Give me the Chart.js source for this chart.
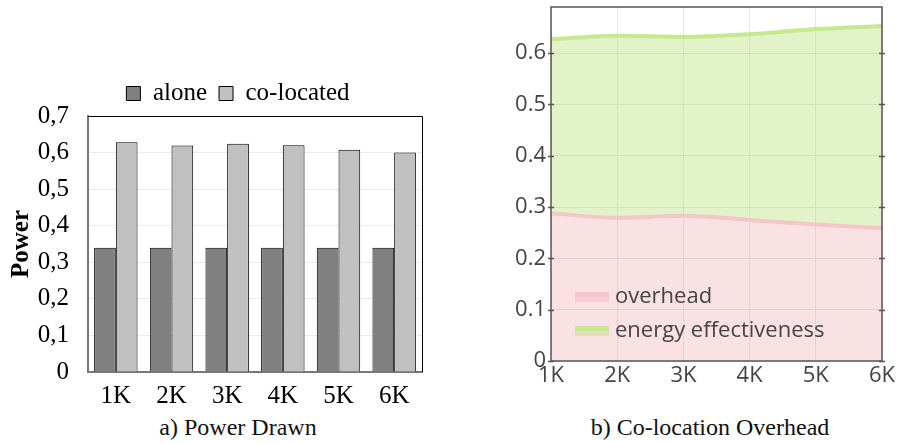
<!DOCTYPE html>
<html>
<head>
<meta charset="utf-8">
<script src="https://cdn.jsdelivr.net/npm/chart.js@4/dist/chart.umd.min.js"></script>
<style>
  body { margin: 0; background: #fff; width: 898px; height: 444px; position: relative; overflow: hidden; }
  #left { position: absolute; left: 0; top: 0; }
  #right { position: absolute; left: 450px; top: 0; }
  .cap { position: absolute; top: 414px; font-family: "Liberation Serif", serif; font-size: 24px; color: #111; white-space: nowrap; transform: translateX(-50%); }
</style>
</head>
<body>
<canvas id="left" width="450" height="410"></canvas>
<canvas id="right" width="448" height="400"></canvas>
<div class="cap" style="left:238px">a) Power Drawn</div>
<div class="cap" style="left:710px">b) Co-location Overhead</div>
<script>
// left chart: power drawn
const sizes = ['1K', '2K', '3K', '4K', '5K', '6K']
const alone = [0.34, 0.34, 0.34, 0.34, 0.34, 0.34]
const colocated = [0.628, 0.619, 0.624, 0.62, 0.608, 0.6]
const powerTicks = ['0', '0,1', '0,2', '0,3', '0,4', '0,5', '0,6', '0,7']

// right chart: co-location overhead
const overhead = [0.288, 0.279, 0.283, 0.275, 0.266, 0.259]
const effectiveness = [0.627, 0.634, 0.632, 0.637, 0.647, 0.653]

const serif = '"Liberation Serif", "Times New Roman", serif'
const sans = '"Open Sans", sans-serif'

// top/right frame lines for the bar chart, legend nudged over the plot centre
const barFrame = {
  id: 'barFrame',
  afterLayout(chart) {
    chart.legend.left += 27
    chart.legend.right += 27
  },
  afterDraw(chart) {
    const a = chart.chartArea, ctx = chart.ctx
    ctx.save()
    ctx.strokeStyle = '#000'
    ctx.lineWidth = 1
    ctx.beginPath()
    ctx.moveTo(a.left, a.top + 0.5)
    ctx.lineTo(a.right + 0.5, a.top + 0.5)
    ctx.lineTo(a.right + 0.5, a.bottom)
    ctx.stroke()
    ctx.restore()
  }
}

new Chart(document.getElementById('left'), {
  type: 'bar',
  data: {
    labels: sizes,
    datasets: [{
      label: 'alone',
      data: alone,
      backgroundColor: '#808080',
      borderColor: '#000',
      borderWidth: 1
    }, {
      label: 'co-located',
      data: colocated,
      backgroundColor: '#c0c0c0',
      borderColor: '#000',
      borderWidth: 1
    }]
  },
  options: {
    responsive: false,
    animation: false,
    categoryPercentage: 0.78,
    barPercentage: 1,
    layout: { padding: { top: 69, right: 28, left: 0, bottom: 0 } },
    plugins: {
      tooltip: { enabled: false },
      legend: {
        position: 'top',
        labels: {
          boxWidth: 14,
          boxHeight: 14,
          color: '#000',
          padding: 12,
          font: { family: serif, size: 25 }
        }
      }
    },
    scales: {
      x: {
        grid: { display: false, drawTicks: false },
        border: { color: '#777', width: 2 },
        ticks: { color: '#000', padding: 9, font: { family: serif, size: 25 } },
        afterFit(s) { s.height = 38 }
      },
      y: {
        min: 0,
        max: 0.7,
        grid: { color: '#ececec', drawTicks: false },
        border: { color: '#777', width: 2 },
        ticks: {
          stepSize: 0.1,
          padding: 19,
          color: '#000',
          font: { family: serif, size: 25 },
          callback: (v, i) => powerTicks[i]
        },
        title: {
          display: true,
          text: 'Power',
          color: '#000',
          padding: { top: 7, bottom: 0 },
          font: { family: serif, size: 25, weight: 'bold' }
        },
        afterFit(s) { s.width = 88 }
      }
    }
  },
  plugins: [barFrame]
})

// frame with tick marks on both sides plus a legend inside the plot
const areaFrame = {
  id: 'areaFrame',
  afterDraw(chart) {
    const a = chart.chartArea, ctx = chart.ctx
    const y = chart.scales.y
    ctx.save()
    ctx.strokeStyle = '#555'
    ctx.lineWidth = 1.5
    ctx.strokeRect(a.left, a.top, a.right - a.left, a.bottom - a.top)
    y.ticks.forEach(t => {
      const py = Math.round(y.getPixelForValue(t.value)) + 0.5
      ctx.beginPath()
      ctx.moveTo(a.left - 3, py); ctx.lineTo(a.left + 3, py)
      ctx.moveTo(a.right - 3, py); ctx.lineTo(a.right + 3, py)
      ctx.stroke()
    })
    // legend
    const fills = ['rgba(240,160,165,0.3)', 'rgba(175,220,100,0.35)']
    chart.data.datasets.forEach((ds, i) => {
      const ly = a.top + 290 + i * 34
      const lx = a.left + 24
      ctx.fillStyle = fills[i]
      ctx.fillRect(lx, ly - 4, 34, 9)
      ctx.fillStyle = ds.borderColor
      ctx.fillRect(lx, ly - 5, 34, 5)
      ctx.fillStyle = '#444'
      ctx.font = '22px ' + sans
      ctx.textBaseline = 'middle'
      ctx.fillText(ds.label, lx + 40, ly)
    })
    ctx.restore()
  }
}

new Chart(document.getElementById('right'), {
  type: 'line',
  data: {
    labels: sizes,
    datasets: [{
      label: 'overhead',
      data: overhead,
      borderColor: 'rgb(245,198,201)',
      backgroundColor: 'rgba(240,160,165,0.3)',
      borderWidth: 4,
      pointRadius: 0,
      cubicInterpolationMode: 'monotone',
      fill: 'origin'
    }, {
      label: 'energy effectiveness',
      data: effectiveness,
      borderColor: 'rgb(198,233,142)',
      backgroundColor: 'rgba(175,220,100,0.35)',
      borderWidth: 4,
      pointRadius: 0,
      cubicInterpolationMode: 'monotone',
      fill: '-1'
    }]
  },
  options: {
    responsive: false,
    animation: false,
    layout: { padding: { top: 7, right: 16, left: 0, bottom: 0 } },
    plugins: {
      tooltip: { enabled: false },
      legend: { display: false }
    },
    scales: {
      x: {
        grid: { color: '#e6e6e6', drawTicks: false },
        border: { display: false },
        ticks: { color: '#444', padding: 2, maxRotation: 0, font: { family: sans, size: 22 } },
        afterFit(s) { s.height = 39 }
      },
      y: {
        min: 0,
        max: 0.69,
        grid: { color: '#e6e6e6', drawTicks: false },
        border: { display: false },
        ticks: {
          stepSize: 0.1,
          padding: 5,
          color: '#444',
          font: { family: sans, size: 22 },
          callback: v => v === 0 ? '0' : v.toFixed(1)
        },
        afterBuildTicks(s) {
          s.ticks = s.ticks.filter(t => Math.abs(t.value * 10 - Math.round(t.value * 10)) < 1e-6)
        },
        afterFit(s) {
          s.width = 101
          s.paddingTop = 0
          s.paddingBottom = 0
        }
      }
    }
  },
  plugins: [areaFrame]
})
</script>
</body>
</html>
